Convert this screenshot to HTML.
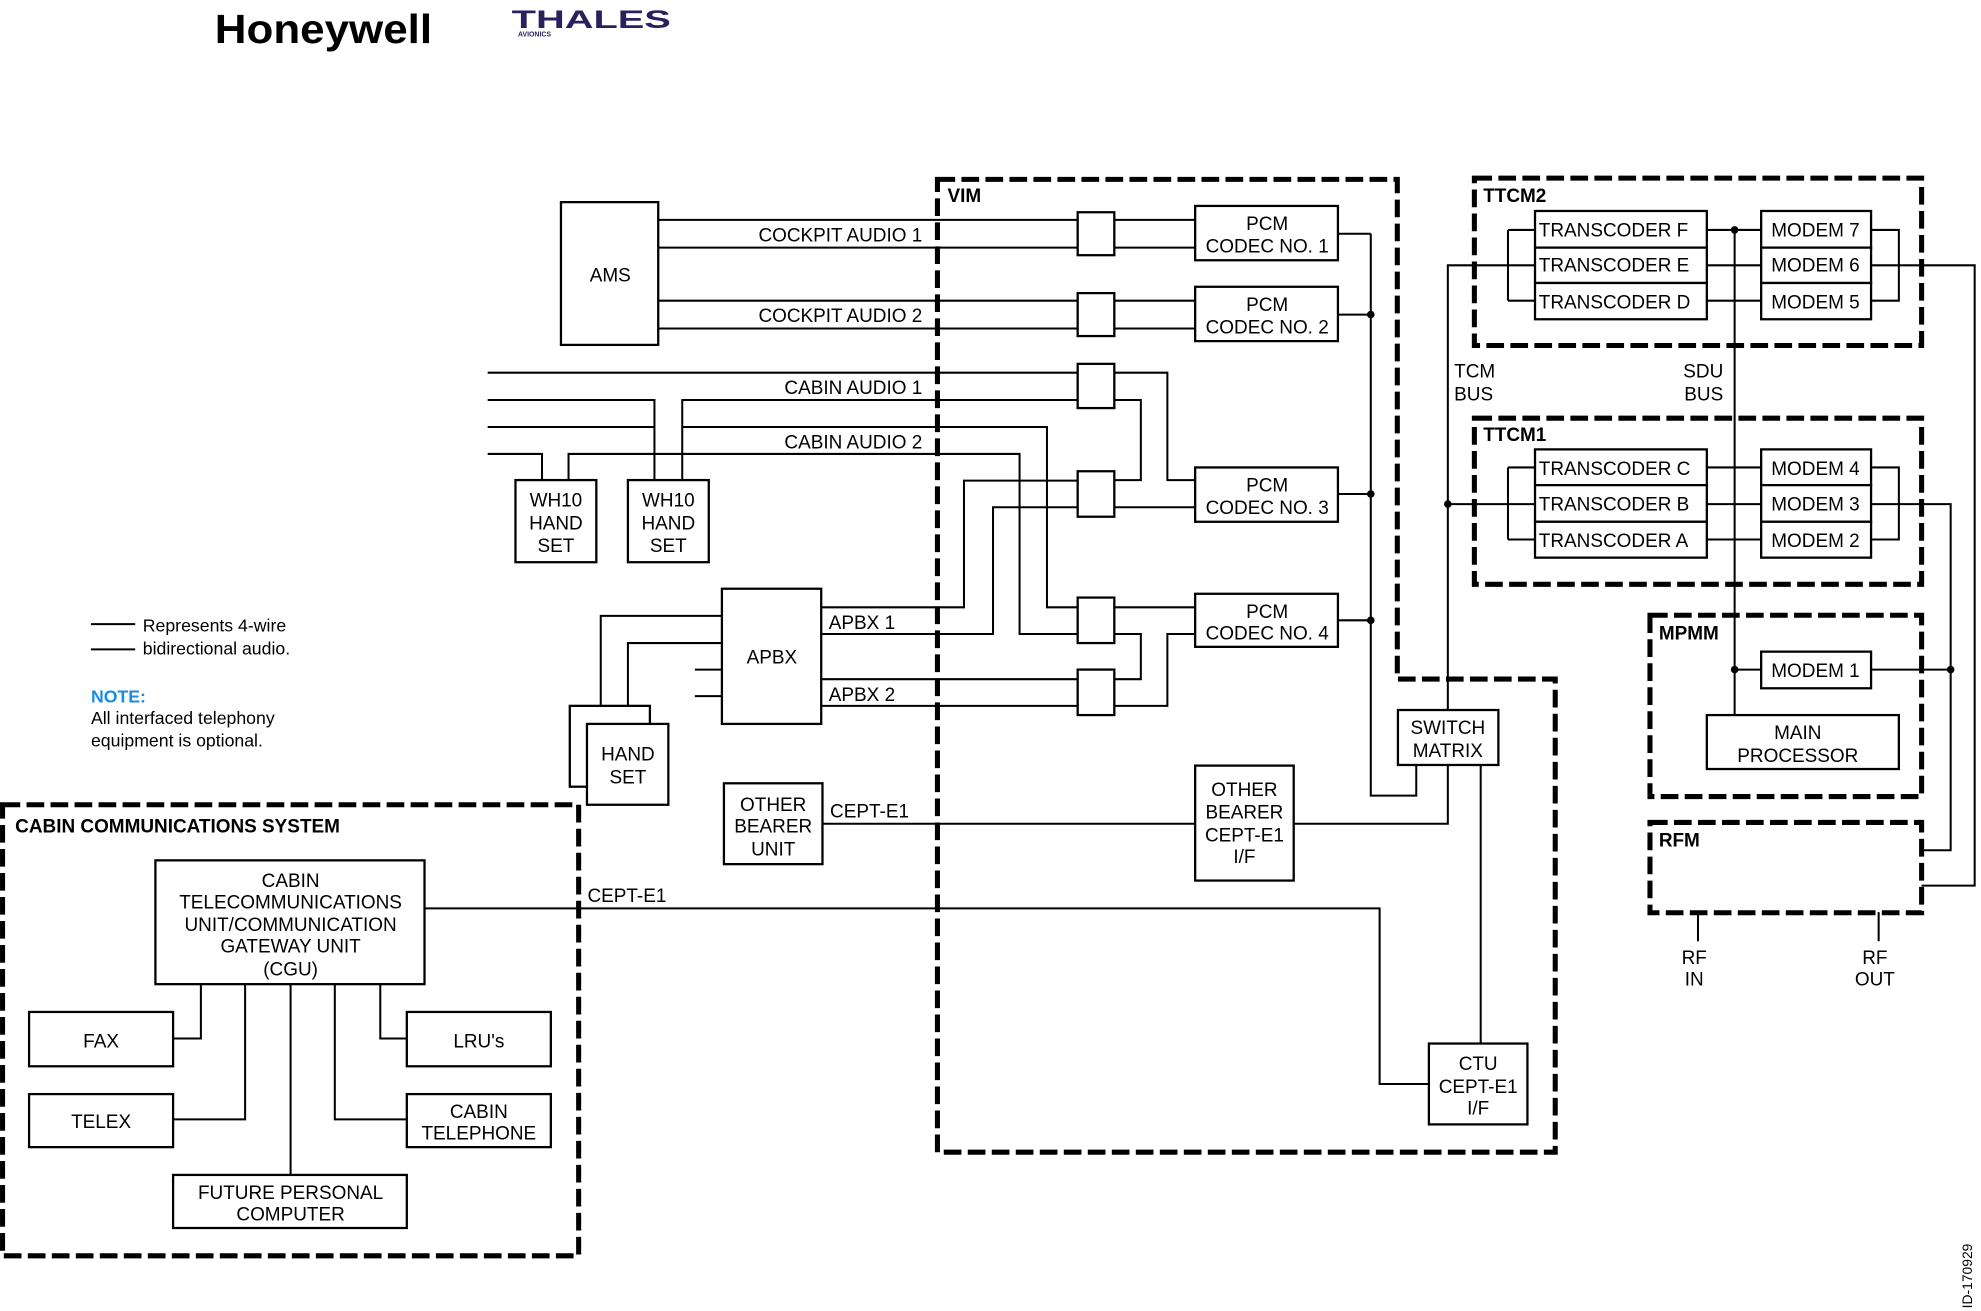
<!DOCTYPE html>
<html><head><meta charset="utf-8"><style>
html,body{margin:0;padding:0;background:#fff;}
svg{display:block;}
text{font-family:"Liberation Sans",sans-serif;font-size:15px;fill:#000;}
.c{text-anchor:middle;}
.b{font-weight:bold;}
</style></head><body>
<svg width="1981" height="1311" viewBox="0 0 1568 1037.7" xmlns="http://www.w3.org/2000/svg">
<rect width="1568" height="1037.7" fill="#fff"/>
<!-- logos -->
<text x="170" y="34" style="font-size:32px;font-weight:bold" textLength="172" lengthAdjust="spacingAndGlyphs">Honeywell</text>
<text x="405" y="22" style="font-size:20px;font-weight:bold;fill:#2b1f5c" textLength="126" lengthAdjust="spacingAndGlyphs">THALES</text>
<text x="410" y="29" style="font-size:5.5px;font-weight:bold;fill:#2b1f5c">AVIONICS</text>

<g fill="none" stroke="#000" stroke-width="4" stroke-dasharray="14 5">
<path d="M742,142 H1106 V537.5 H1231 V912 H742 Z"/>
<rect x="1167" y="141" width="354" height="132.5"/>
<rect x="1167" y="331" width="354" height="131.5"/>
<rect x="1306" y="487" width="215" height="143.5"/>
<rect x="1306" y="651" width="215" height="71.5"/>
<rect x="2" y="637" width="456" height="357"/>
</g>

<g fill="none" stroke="#000" stroke-width="1.6">
<!-- cockpit -->
<path d="M521,174H853M521,196H853M882,174H946M882,196H946"/>
<path d="M521,238H853M521,260H853M882,238H946M882,260H946"/>
<!-- cabin audio lines -->
<path d="M386,295H853M882,295H924V380H946"/>
<path d="M386,316.6H518V380M540,380V316.6H853M882,316.6H903V380H882"/>
<path d="M386,338H518M540,338H828.7V480.7H853"/>
<path d="M386,359.3H429V380M450,380V359.3H807V501.8H853"/>
<!-- apbx -->
<path d="M650,480.7H763V380.4H853M650,501.8H786V401.5H853M882,401.5H946"/>
<path d="M882,480.7H946M882,501.8H903V537.6H882M650,537.6H853M650,558.7H853M882,558.7H924V501.8H946"/>
<path d="M571.4,487.5H475.5V558.7M571.4,509H497V573M550,530H571.4M550,551H571.4"/>
<!-- codec bus -->
<path d="M1059,185H1085M1059,249H1085M1059,391H1085M1059,491H1085M1085,185V629.8H1121V605.5"/>
<path d="M651,652H946M1024,652H1146V605.5M1172,605.5V826"/>
<path d="M336,719H1092V858H1131"/>
<!-- TTCM -->
<path d="M1146,562V210H1215M1193.6,182H1215M1193.6,238H1215M1193.6,182V238"/>
<path d="M1351,182H1394M1351,210H1394M1351,238H1394M1373,182V566"/>
<path d="M1481,182H1503V238H1481M1481,210H1563V701H1521"/>
<path d="M1146,399H1215M1193.6,370H1215M1193.6,427H1215M1193.6,370V427"/>
<path d="M1351,370H1394M1351,399H1394M1351,427H1394"/>
<path d="M1481,370H1503V427H1481M1481,399H1544V673H1521"/>
<path d="M1373,530H1394M1481,530H1544"/>
<path d="M1344,722V745M1487,722V745"/>
<!-- CGU tree -->
<path d="M159,779V822H137M301,779V822H322M194,779V886H137M265,779V886H322M230,779V930"/>
<!-- legend -->
<path d="M72,494H107M72,514H107"/>
</g>
<g fill="#000">
<circle cx="1085" cy="249" r="3"/><circle cx="1085" cy="391" r="3"/><circle cx="1085" cy="491" r="3"/>
<circle cx="1373" cy="182" r="3"/><circle cx="1146" cy="399" r="3"/><circle cx="1373" cy="530" r="3"/><circle cx="1544" cy="530" r="3"/>
</g>

<g fill="#fff" stroke="#000" stroke-width="1.8">
<rect x="444" y="160" width="77" height="113"/>
<rect x="853" y="168" width="29" height="34"/><rect x="853" y="232" width="29" height="34"/>
<rect x="853" y="288" width="29" height="35"/><rect x="853" y="373" width="29" height="36"/>
<rect x="853" y="473" width="29" height="36"/><rect x="853" y="530" width="29" height="36"/>
<rect x="946" y="163" width="113" height="43"/><rect x="946" y="227" width="113" height="43"/>
<rect x="946" y="370" width="113" height="43"/><rect x="946" y="470" width="113" height="42"/>
<rect x="408" y="380" width="64" height="65"/><rect x="497" y="380" width="64" height="65"/>
<rect x="571.4" y="466" width="78.6" height="107"/>
<rect x="451" y="558.7" width="63.4" height="64"/>
<rect x="464.6" y="573" width="64.4" height="64"/>
<rect x="573" y="620" width="78" height="64"/>
<rect x="946" y="606" width="78" height="91"/>
<rect x="1106.5" y="562" width="79.5" height="43.5"/>
<rect x="1131" y="826" width="78" height="64"/>
<rect x="1215" y="167" width="136" height="29"/><rect x="1215" y="196" width="136" height="28"/><rect x="1215" y="224" width="136" height="28.7"/>
<rect x="1394" y="167" width="87" height="29"/><rect x="1394" y="196" width="87" height="28"/><rect x="1394" y="224" width="87" height="28.7"/>
<rect x="1215" y="355.7" width="136" height="28.3"/><rect x="1215" y="384" width="136" height="29"/><rect x="1215" y="413" width="136" height="28.4"/>
<rect x="1394" y="355.7" width="87" height="28.3"/><rect x="1394" y="384" width="87" height="29"/><rect x="1394" y="413" width="87" height="28.4"/>
<rect x="1394" y="515.8" width="87" height="29"/>
<rect x="1351" y="566" width="152" height="42.7"/>
<rect x="123" y="681" width="213" height="98"/>
<rect x="23" y="801" width="114" height="43"/><rect x="322" y="801" width="114" height="43"/>
<rect x="23" y="866" width="114" height="42"/><rect x="322" y="866" width="114" height="42"/>
<rect x="137" y="930" width="185" height="42"/>
</g>

<text x="483" y="223" class="c">AMS</text>
<text x="730" y="191" text-anchor="end">COCKPIT AUDIO 1</text>
<text x="730" y="255" text-anchor="end">COCKPIT AUDIO 2</text>
<text x="730" y="312" text-anchor="end">CABIN AUDIO 1</text>
<text x="730" y="355" text-anchor="end">CABIN AUDIO 2</text>
<text x="656" y="498">APBX 1</text>
<text x="656" y="555">APBX 2</text>
<text x="657" y="647">CEPT-E1</text>
<text x="465" y="714">CEPT-E1</text>
<text x="750" y="160" class="b">VIM</text>
<text x="1003" y="182" class="c">PCM</text><text x="1003" y="200" class="c">CODEC NO. 1</text>
<text x="1003" y="246" class="c">PCM</text><text x="1003" y="264" class="c">CODEC NO. 2</text>
<text x="1003" y="389" class="c">PCM</text><text x="1003" y="407" class="c">CODEC NO. 3</text>
<text x="1003" y="489" class="c">PCM</text><text x="1003" y="506" class="c">CODEC NO. 4</text>
<text x="440" y="401" class="c">WH10</text><text x="440" y="419" class="c">HAND</text><text x="440" y="437" class="c">SET</text>
<text x="529" y="401" class="c">WH10</text><text x="529" y="419" class="c">HAND</text><text x="529" y="437" class="c">SET</text>
<text x="611" y="525" class="c">APBX</text>
<text x="497" y="602" class="c">HAND</text><text x="497" y="620" class="c">SET</text>
<text x="612" y="642" class="c">OTHER</text><text x="612" y="659" class="c">BEARER</text><text x="612" y="677" class="c">UNIT</text>
<text x="985" y="630" class="c">OTHER</text><text x="985" y="648" class="c">BEARER</text><text x="985" y="666" class="c">CEPT-E1</text><text x="985" y="683" class="c">I/F</text>
<text x="1146" y="581" class="c">SWITCH</text><text x="1146" y="599" class="c">MATRIX</text>
<text x="1170" y="847" class="c">CTU</text><text x="1170" y="865" class="c">CEPT-E1</text><text x="1170" y="882" class="c">I/F</text>
<text x="1174" y="160" class="b">TTCM2</text>
<text x="1174" y="349" class="b">TTCM1</text>
<text x="1313" y="506" class="b">MPMM</text>
<text x="1313" y="670" class="b">RFM</text>
<text x="1218" y="187">TRANSCODER F</text><text x="1218" y="215">TRANSCODER E</text><text x="1218" y="244">TRANSCODER D</text>
<text x="1437" y="187" class="c">MODEM 7</text><text x="1437" y="215" class="c">MODEM 6</text><text x="1437" y="244" class="c">MODEM 5</text>
<text x="1218" y="376">TRANSCODER C</text><text x="1218" y="404">TRANSCODER B</text><text x="1218" y="433">TRANSCODER A</text>
<text x="1437" y="376" class="c">MODEM 4</text><text x="1437" y="404" class="c">MODEM 3</text><text x="1437" y="433" class="c">MODEM 2</text>
<text x="1437" y="536" class="c">MODEM 1</text>
<text x="1423" y="585" class="c">MAIN</text><text x="1423" y="603" class="c">PROCESSOR</text>
<text x="1151" y="299">TCM</text><text x="1151" y="317">BUS</text>
<text x="1364" y="299" text-anchor="end">SDU</text><text x="1364" y="317" text-anchor="end">BUS</text>
<text x="1341" y="763" class="c">RF</text><text x="1341" y="780" class="c">IN</text>
<text x="1484" y="763" class="c">RF</text><text x="1484" y="780" class="c">OUT</text>
<text x="12" y="659" class="b">CABIN COMMUNICATIONS SYSTEM</text>
<text x="230" y="702" class="c">CABIN</text><text x="230" y="719" class="c">TELECOMMUNICATIONS</text><text x="230" y="737" class="c">UNIT/COMMUNICATION</text><text x="230" y="754" class="c">GATEWAY UNIT</text><text x="230" y="772" class="c">(CGU)</text>
<text x="80" y="829" class="c">FAX</text>
<text x="379" y="829" class="c">LRU's</text>
<text x="80" y="893" class="c">TELEX</text>
<text x="379" y="885" class="c">CABIN</text><text x="379" y="902" class="c">TELEPHONE</text>
<text x="230" y="949" class="c">FUTURE PERSONAL</text><text x="230" y="966" class="c">COMPUTER</text>
<text x="113" y="500" style="font-size:14px">Represents 4-wire</text>
<text x="113" y="518" style="font-size:14px">bidirectional audio.</text>
<text x="72" y="556" class="b" style="font-size:14px;fill:#1a8ce0">NOTE:</text>
<text x="72" y="573" style="font-size:14px">All interfaced telephony</text>
<text x="72" y="591" style="font-size:14px">equipment is optional.</text>
<text transform="translate(1561,1010) rotate(-90)" class="c" style="font-size:11px">ID-170929</text>
</svg>
</body></html>
